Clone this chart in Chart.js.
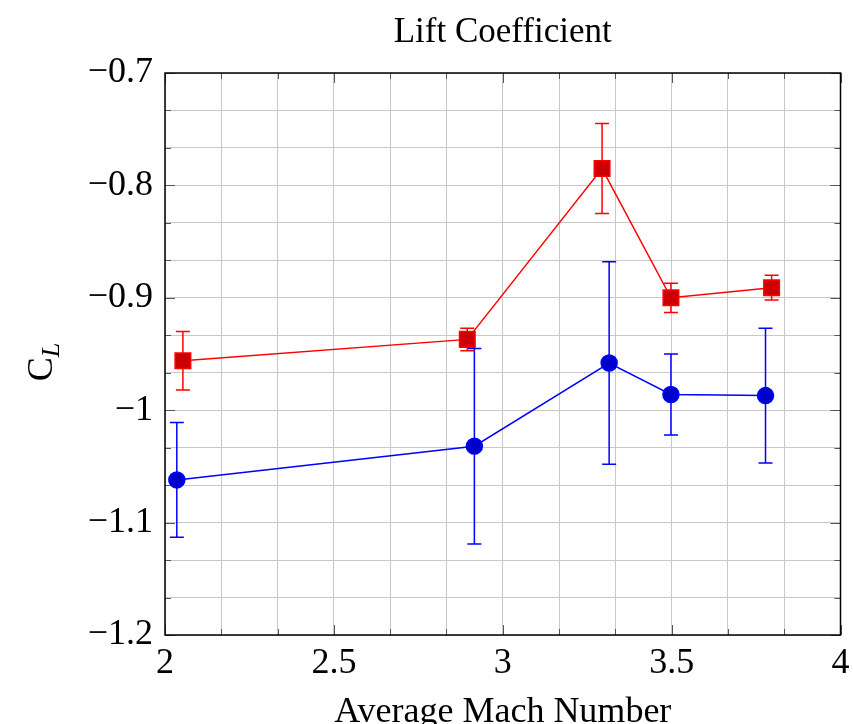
<!DOCTYPE html>
<html>
<head>
<meta charset="UTF-8">
<title>Lift Coefficient</title>
<script src="https://cdn.jsdelivr.net/npm/chart.js@4.4.1/dist/chart.umd.min.js"></script>
<style>
  html, body { margin: 0; padding: 0; background: #fff; }
  #wrap { width: 853px; height: 724px; }
</style>
</head>
<body>
<div id="wrap"><canvas id="liftChart" width="853" height="724"></canvas></div>
<script>
// valores
const machRed = [2.053, 2.895, 3.294, 3.498, 3.796];
const clRed   = [-0.956, -0.937, -0.785, -0.900, -0.891];
const errRed  = [0.026, 0.010, 0.040, 0.013, 0.011];

const machBlue = [2.035, 2.916, 3.315, 3.498, 3.778];
const clBlue   = [-1.062, -1.032, -0.958, -0.986, -0.987];
const errBlue  = [0.051, 0.087, 0.090, 0.036, 0.060];

const xTickLabels = [2, 2.5, 3, 3.5, 4];
const yTickLabels = [-0.7, -0.8, -0.9, -1, -1.1, -1.2];
const minorPerMajor = 3; // 2 linhas menores entre as maiores

const serif = '"Liberation Serif", "Times New Roman", serif';
const fmt = v => (v < 0 ? '\u2212' : '') + Math.abs(v).toString();

function gridTicks(labels) {
  const vals = [];
  const sorted = [...labels].sort((a, b) => a - b);
  for (let i = 0; i < sorted.length - 1; i++) {
    const step = (sorted[i + 1] - sorted[i]) / minorPerMajor;
    for (let k = 0; k < minorPerMajor; k++) vals.push({ value: sorted[i] + k * step, major: k === 0 });
  }
  vals.push({ value: sorted[sorted.length - 1], major: true });
  return vals;
}

const errors = [errRed, errBlue];

// barras de erro desenhadas antes de cada série
const errorBars = {
  id: 'errorBars',
  beforeDatasetDraw(chart, args) {
    const ctx = chart.ctx;
    const ds = chart.data.datasets[args.index];
    const err = errors[args.index];
    const xs = chart.scales.x, ys = chart.scales.y;
    ctx.save();
    ctx.strokeStyle = ds.borderColor;
    ctx.lineWidth = 1.5;
    ds.data.forEach((p, i) => {
      const px = xs.getPixelForValue(p.x);
      const top = ys.getPixelForValue(p.y + err[i]);
      const bot = ys.getPixelForValue(p.y - err[i]);
      ctx.beginPath();
      ctx.moveTo(px, top); ctx.lineTo(px, bot);
      ctx.moveTo(px - 7, top); ctx.lineTo(px + 7, top);
      ctx.moveTo(px - 7, bot); ctx.lineTo(px + 7, bot);
      ctx.stroke();
    });
    ctx.restore();
  }
};

// moldura, marcas de escala internas e rótulo C_L
const frame = {
  id: 'frame',
  beforeDatasetsDraw(chart) {
    const { ctx, chartArea: a } = chart;
    const xs = chart.scales.x, ys = chart.scales.y;
    ctx.save();
    ctx.strokeStyle = '#555';
    ctx.lineWidth = 1;
    xs.ticks.forEach(t => {
      const px = Math.round(xs.getPixelForValue(t.value)) + 0.5;
      const len = t.major ? 10 : 6;
      ctx.beginPath();
      ctx.moveTo(px, a.bottom); ctx.lineTo(px, a.bottom - len);
      ctx.moveTo(px, a.top); ctx.lineTo(px, a.top + len);
      ctx.stroke();
    });
    ys.ticks.forEach(t => {
      const py = Math.round(ys.getPixelForValue(t.value)) + 0.5;
      const len = t.major ? 10 : 6;
      ctx.beginPath();
      ctx.moveTo(a.left, py); ctx.lineTo(a.left + len, py);
      ctx.moveTo(a.right, py); ctx.lineTo(a.right - len, py);
      ctx.stroke();
    });
    ctx.strokeStyle = '#000';
    ctx.lineWidth = 1.5;
    ctx.strokeRect(a.left, a.top, a.right - a.left, a.bottom - a.top);
    ctx.restore();
  },
  afterDraw(chart) {
    const { ctx, chartArea: a } = chart;
    const cy = (a.top + a.bottom) / 2 + 8;
    ctx.save();
    ctx.translate(52, cy);
    ctx.rotate(-Math.PI / 2);
    ctx.fillStyle = '#000';
    ctx.textBaseline = 'alphabetic';
    ctx.font = '36px ' + serif;
    const wC = ctx.measureText('C').width;
    ctx.font = 'italic 26px ' + serif;
    const wL = ctx.measureText('L').width;
    const x0 = -(wC + wL) / 2;
    ctx.font = '36px ' + serif;
    ctx.fillText('C', x0, 0);
    ctx.font = 'italic 26px ' + serif;
    ctx.fillText('L', x0 + wC, 7);
    ctx.restore();
  }
};

new Chart(document.getElementById('liftChart'), {
  type: 'line',
  data: {
    datasets: [
      {
        label: 'red',
        data: machRed.map((m, i) => ({ x: m, y: clRed[i] })),
        borderColor: '#ff0000',
        backgroundColor: '#cc0000',
        borderWidth: 1.5,
        pointStyle: 'rect',
        pointRadius: 11,
        pointBorderWidth: 1.5,
        pointBackgroundColor: '#cc0000',
        pointBorderColor: '#ff0000',
        tension: 0
      },
      {
        label: 'blue',
        data: machBlue.map((m, i) => ({ x: m, y: clBlue[i] })),
        borderColor: '#0000ff',
        backgroundColor: '#0000cc',
        borderWidth: 1.5,
        pointStyle: 'circle',
        pointRadius: 8,
        pointBorderWidth: 1.5,
        pointBackgroundColor: '#0000cc',
        pointBorderColor: '#0000ff',
        tension: 0
      }
    ]
  },
  options: {
    responsive: false,
    animation: false,
    layout: { padding: { left: 0, right: 11, top: 0, bottom: 0 } },
    plugins: {
      legend: { display: false },
      tooltip: { enabled: false },
      title: {
        display: true,
        fullSize: false,
        text: 'Lift Coefficient',
        color: '#000',
        font: { family: serif, size: 35, weight: 'normal', lineHeight: 1.2 },
        padding: { top: 12, bottom: 19 }
      }
    },
    scales: {
      x: {
        type: 'linear',
        min: 2,
        max: 4,
        afterBuildTicks: s => { s.ticks = gridTicks(xTickLabels); },
        afterFit: s => { s.height = 89; s.paddingRight = 0; s.paddingLeft = 0; },
        grid: { color: '#c8c8c8', lineWidth: 1, drawTicks: false },
        border: { display: false },
        ticks: {
          autoSkip: false,
          maxRotation: 0,
          padding: 7,
          color: '#000',
          font: { family: serif, size: 36 },
          callback: v => xTickLabels.some(t => Math.abs(t - v) < 1e-9) ? fmt(v) : ''
        },
        title: {
          display: true,
          text: 'Average Mach Number',
          color: '#000',
          font: { family: serif, size: 36, lineHeight: 1.2 },
          padding: { top: 0, bottom: -10 }
        }
      },
      y: {
        type: 'linear',
        min: -1.2,
        max: -0.7,
        afterBuildTicks: s => { s.ticks = gridTicks(yTickLabels); },
        afterFit: s => { s.width = 165; },
        grid: { color: '#c8c8c8', lineWidth: 1, drawTicks: false },
        border: { display: false },
        ticks: {
          autoSkip: false,
          padding: 12,
          color: '#000',
          font: { family: serif, size: 36 },
          callback: v => yTickLabels.some(t => Math.abs(t - v) < 1e-9) ? fmt(v) : ''
        }
      }
    }
  },
  plugins: [errorBars, frame]
});
</script>
</body>
</html>
